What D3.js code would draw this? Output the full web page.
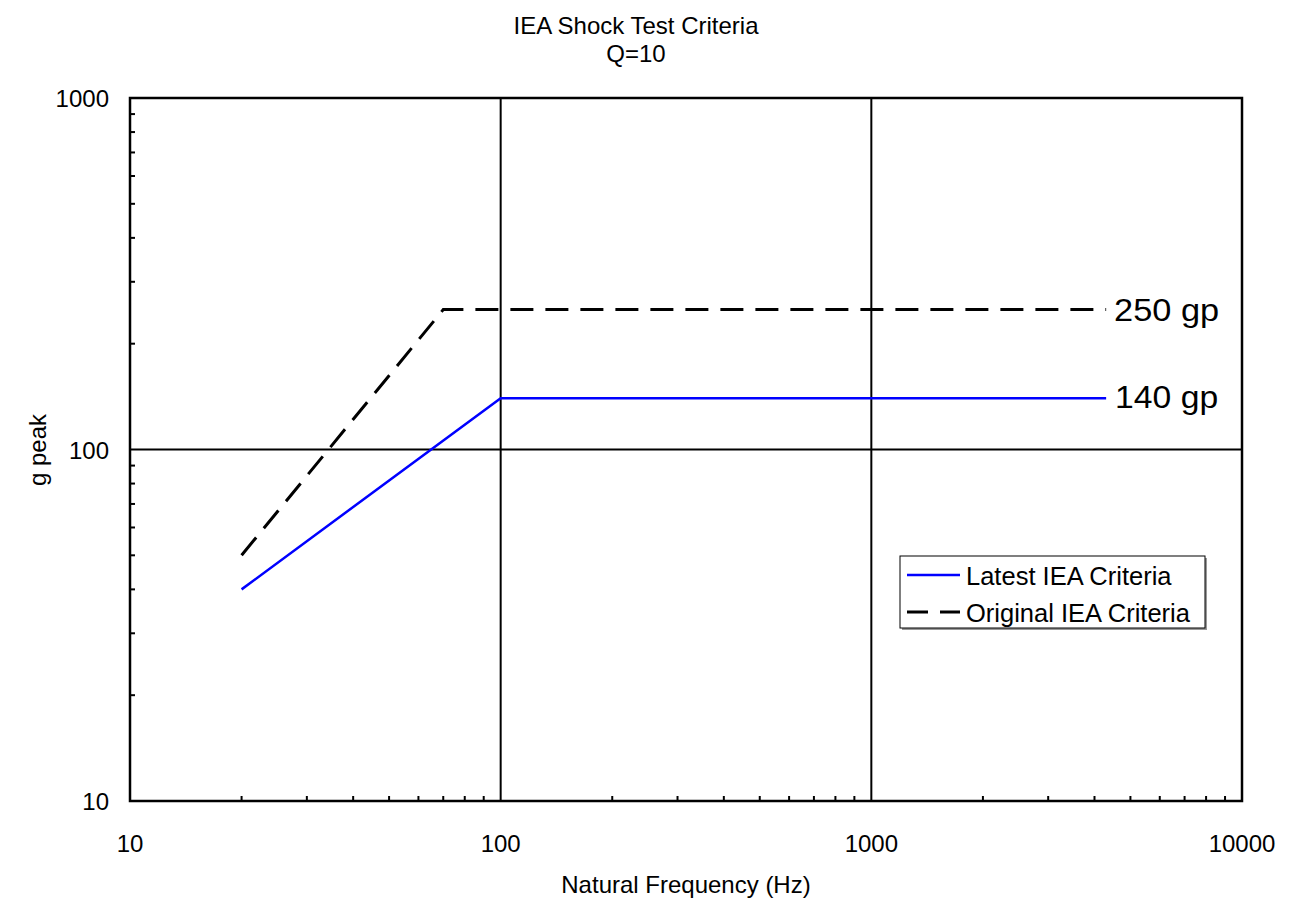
<!DOCTYPE html>
<html><head><meta charset="utf-8">
<script src="https://cdn.jsdelivr.net/npm/d3@7"></script>
<style>body{margin:0;background:#fff;} text{font-family:"Liberation Sans",Arial,sans-serif;}</style>
</head><body>
<svg id="c" width="1292" height="898"></svg>
<script>
const latestFreq = [20, 100, 4300];
const latestG = [40, 140, 140];
const originalFreq = [20, 70, 4300];
const originalG = [50, 250, 250];
const xTicks = [10, 100, 1000, 10000];
const yTicks = [10, 100, 1000];
const xGrid = [100, 1000];
const yGrid = [100];
const seriesNames = ["Latest IEA Criteria", "Original IEA Criteria"];
const endLabels = ["140 gp", "250 gp"];

const svg = d3.select("#c");
const L = 130, R = 1242, T = 98, B = 801;
const x = d3.scaleLog().domain([10, 10000]).range([L, R]);
const y = d3.scaleLog().domain([10, 1000]).range([B, T]);

const xMinor = [], yMinor = [];
[10, 100, 1000].forEach(d => { for (let k = 2; k <= 9; k++) xMinor.push(d * k); });
[10, 100].forEach(d => { for (let k = 2; k <= 9; k++) yMinor.push(d * k); });

const g = svg.append("g");
g.selectAll(".xm").data(xMinor).enter().append("line")
  .attr("x1", d => x(d)).attr("x2", d => x(d)).attr("y1", B).attr("y2", B - 5)
  .attr("stroke", "#000").attr("stroke-width", 2);
g.selectAll(".ym").data(yMinor).enter().append("line")
  .attr("y1", d => y(d)).attr("y2", d => y(d)).attr("x1", L).attr("x2", L + 5)
  .attr("stroke", "#000").attr("stroke-width", 2);

g.selectAll(".xg").data(xGrid).enter().append("line")
  .attr("x1", d => x(d)).attr("x2", d => x(d)).attr("y1", T).attr("y2", B)
  .attr("stroke", "#000").attr("stroke-width", 2);
g.selectAll(".yg").data(yGrid).enter().append("line")
  .attr("y1", d => y(d)).attr("y2", d => y(d)).attr("x1", L).attr("x2", R)
  .attr("stroke", "#000").attr("stroke-width", 2);

g.append("rect").attr("x", L).attr("y", T).attr("width", R - L).attr("height", B - T)
  .attr("fill", "none").attr("stroke", "#000").attr("stroke-width", 2.5);

g.selectAll(".xt").data(xTicks).enter().append("text")
  .attr("x", d => x(d)).attr("y", B + 51).attr("text-anchor", "middle")
  .attr("font-size", 24).text(d => d);
g.selectAll(".yt").data(yTicks).enter().append("text")
  .attr("x", L - 21).attr("y", d => y(d) + 9).attr("text-anchor", "end")
  .attr("font-size", 24).text(d => d);

const line = d3.line().x(d => x(d[0])).y(d => y(d[1]));
const latest = latestFreq.map((f, i) => [f, latestG[i]]);
const original = originalFreq.map((f, i) => [f, originalG[i]]);
g.append("path").attr("d", line(original)).attr("fill", "none")
  .attr("stroke", "#000").attr("stroke-width", 3).attr("stroke-dasharray", "23,12");
g.append("path").attr("d", line(latest)).attr("fill", "none")
  .attr("stroke", "#0000ff").attr("stroke-width", 2.5);

g.append("text").attr("x", x(latestFreq[2]) + 9).attr("y", y(latestG[2]) + 10)
  .attr("font-size", 31).attr("textLength", 103).attr("lengthAdjust", "spacingAndGlyphs").text(endLabels[0]);
g.append("text").attr("x", x(originalFreq[2]) + 8).attr("y", y(originalG[2]) + 11)
  .attr("font-size", 31).attr("textLength", 105).attr("lengthAdjust", "spacingAndGlyphs").text(endLabels[1]);

svg.append("text").attr("x", 636).attr("y", 34).attr("text-anchor", "middle").attr("font-size", 24).text("IEA Shock Test Criteria");
svg.append("text").attr("x", 636).attr("y", 62).attr("text-anchor", "middle").attr("font-size", 24).text("Q=10");
svg.append("text").attr("x", 686).attr("y", 893).attr("text-anchor", "middle").attr("font-size", 24).text("Natural Frequency (Hz)");
svg.append("text").attr("transform", "translate(46,450) rotate(-90)").attr("text-anchor", "middle").attr("font-size", 24).text("g peak");

const lg = svg.append("g");
lg.append("rect").attr("x", 902).attr("y", 558).attr("width", 305).attr("height", 72).attr("fill", "#999");
lg.append("rect").attr("x", 900).attr("y", 556).attr("width", 305).attr("height", 72)
  .attr("fill", "#fff").attr("stroke", "#000").attr("stroke-width", 1);
lg.append("line").attr("x1", 907).attr("x2", 960).attr("y1", 575).attr("y2", 575)
  .attr("stroke", "#0000ff").attr("stroke-width", 2.5);
lg.append("line").attr("x1", 907).attr("x2", 960).attr("y1", 612).attr("y2", 612)
  .attr("stroke", "#000").attr("stroke-width", 3).attr("stroke-dasharray", "21,12");
lg.append("text").attr("x", 966).attr("y", 585).attr("font-size", 25.5).text(seriesNames[0]);
lg.append("text").attr("x", 966).attr("y", 622).attr("font-size", 25.5).text(seriesNames[1]);
</script>
</body></html>
